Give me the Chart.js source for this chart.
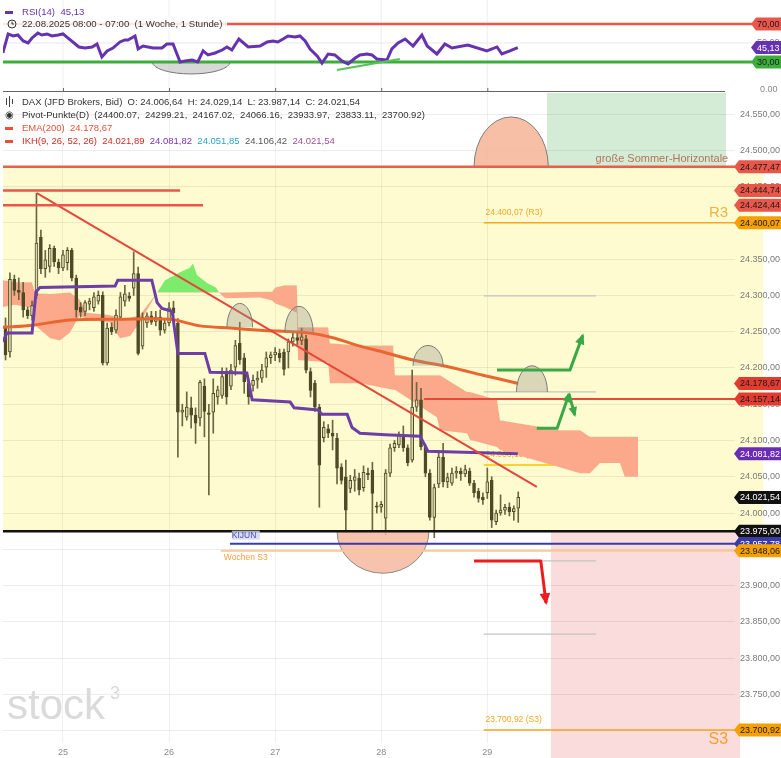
<!DOCTYPE html>
<html>
<head>
<meta charset="utf-8">
<script src="https://cdn.jsdelivr.net/npm/chart.js@4.4.1/dist/chart.umd.min.js"></script>
<style>
  html, body { margin: 0; padding: 0; background: #fff; }
  #wrap { position: relative; width: 781px; height: 758px; overflow: hidden; }
  #rsi { position: absolute; left: 0; top: 0; }
  #main { position: absolute; left: 0; top: 92px; }
</style>
</head>
<body>
<div id="wrap">
  <canvas id="rsi" width="781" height="92" style="width:781px;height:92px"></canvas>
  <canvas id="main" width="781" height="666" style="width:781px;height:666px"></canvas>
</div>
<script>
Chart.defaults.font.family = "'Liberation Sans', Arial, sans-serif";

// x axis: hours since 25.08. 00:00
const dayHours = [0, 24, 48, 72, 96];
const dayLabels = ['25', '26', '27', '28', '29'];
const priceTicks = [23700, 23750, 23800, 23850, 23900, 23950, 24000, 24050, 24100, 24150,
  24200, 24250, 24300, 24350, 24400, 24450, 24500, 24550];

// hourly candles, first one at hour -13
const firstHour = -13;
const opens = [24256, 24222, 24322, 24307, 24304, 24280, 24272, 24300, 24380, 24337, 24340, 24365, 24346,
  24338, 24345, 24362, 24324, 24284, 24278, 24288, 24283, 24292, 24300, 24207, 24256, 24252, 24270, 24292,
  24299, 24310, 24330, 24230, 24262, 24272, 24264, 24270, 24252, 24262, 24283, 24262, 24139, 24132, 24145,
  24135, 24131, 24175, 24138, 24139, 24160, 24162, 24195, 24175, 24201, 24234, 24214, 24179, 24176, 24183,
  24186, 24201, 24214, 24218, 24220, 24222, 24222, 24236, 24242, 24238, 24240, 24195, 24179, 24146, 24104,
  24116, 24110, 24103, 24063, 24050, 24034, 24045, 24048, 24035, 24055, 24059, 24010, 24008, 23993, 24055,
  24090, 24094, 24108, 24090, 24073, 24146, 24156, 24091, 24055, 23994, 24040, 24077, 24043, 24041, 24055,
  24058, 24054, 24058, 24041, 24030, 24022, 24028, 24045, 23988, 24000, 24004, 24008, 24002, 24006.64];
const highs = [24269, 24331, 24328, 24324, 24318, 24284, 24292, 24441, 24390, 24362, 24370, 24368, 24350,
  24362, 24366, 24365, 24328, 24290, 24293, 24296, 24304, 24306, 24305, 24262, 24262, 24280, 24304, 24314,
  24304, 24360, 24339, 24276, 24276, 24278, 24278, 24280, 24268, 24290, 24292, 24268, 24150, 24167, 24160,
  24145, 24183, 24185, 24150, 24185, 24175, 24200, 24200, 24205, 24238, 24263, 24220, 24185, 24190, 24195,
  24205, 24222, 24222, 24228, 24226, 24226, 24240, 24248, 24250, 24255, 24245, 24200, 24183, 24150, 24126,
  24122, 24128, 24110, 24068, 24073, 24052, 24060, 24055, 24065, 24062, 24070, 24015, 24016, 24060, 24095,
  24100, 24112, 24120, 24094, 24197, 24180, 24172, 24095, 24060, 24040, 24085, 24096, 24055, 24062, 24064,
  24062, 24066, 24062, 24045, 24034, 24028, 24062, 24050, 24004, 24025, 24012, 24014, 24010, 24029.14];
const lows = [24211, 24215, 24300, 24294, 24270, 24268, 24266, 24296, 24330, 24325, 24332, 24340, 24330,
  24334, 24335, 24320, 24270, 24270, 24272, 24280, 24278, 24288, 24204, 24204, 24246, 24248, 24266, 24285,
  24292, 24300, 24218, 24226, 24256, 24260, 24258, 24245, 24248, 24258, 24270, 24077, 24120, 24128, 24117,
  24096, 24120, 24105, 24025, 24110, 24150, 24158, 24150, 24170, 24190, 24205, 24165, 24150, 24168, 24172,
  24180, 24187, 24206, 24210, 24208, 24190, 24200, 24230, 24232, 24232, 24193, 24160, 24140, 24008, 24098,
  24104, 24087, 24040, 24040, 23974, 24028, 24030, 24025, 24030, 24046, 23977, 24000, 24001, 23970, 24050,
  24085, 24090, 24085, 24065, 24070, 24140, 24087, 24050, 23990, 23966, 24035, 24036, 24035, 24038, 24048,
  24045, 24050, 24038, 24022, 24015, 24012, 24020, 23980, 23984, 23997, 23998, 23996, 23990, 23987.14];
const closes = [24218, 24322, 24307, 24304, 24280, 24272, 24286, 24372, 24337, 24349, 24365, 24346, 24338,
  24356, 24362, 24324, 24280, 24277, 24290, 24292, 24298, 24300, 24207, 24255, 24250, 24273, 24298, 24302,
  24296, 24330, 24220, 24270, 24272, 24263, 24270, 24252, 24262, 24283, 24276, 24139, 24142, 24146, 24135,
  24124, 24180, 24140, 24136, 24165, 24170, 24188, 24160, 24197, 24231, 24211, 24181, 24160, 24183, 24186,
  24197, 24214, 24218, 24222, 24214, 24198, 24236, 24242, 24238, 24243, 24197, 24169, 24146, 24066, 24118,
  24110, 24106, 24062, 24045, 24004, 24045, 24050, 24032, 24056, 24053, 24027, 24008, 24012, 24055, 24090,
  24096, 24107, 24090, 24069, 24146, 24156, 24091, 24055, 23994, 24035, 24077, 24043, 24049, 24055, 24058,
  24054, 24060, 24041, 24028, 24020, 24018, 24043, 23990, 24000, 24004, 24008, 24002, 24006, 24021.54];

// EMA(200)
const emaHours = [-13.6, -6.8, 1.6, 12.9, 24.2, 31.0, 37.8, 44.6, 55.9, 61.5, 67.2, 72.4, 79.2, 87.6, 95.0, 103.0];
const emaValues = [24256, 24259, 24266, 24267, 24267, 24258, 24255, 24252, 24248, 24241, 24230, 24222,
  24211, 24201, 24190, 24178.67];

// Kijun-sen
const kijunHours = [-13.6, -12.7, -7.0, -6.1, -5.2, 11.8, 12.4, 20.1, 21.3, 22.4, 24.7, 26.0, 32.1, 33.3,
  41.6, 42.8, 51.4, 52.3, 57.7, 58.6, 64.3, 65.4, 67.2, 72.9, 80.8, 82.6, 102.9];
const kijunValues = [24236, 24248, 24248, 24305, 24311, 24313, 24321, 24321, 24290, 24282, 24278, 24220,
  24220, 24194, 24193, 24156, 24153, 24145, 24142, 24136, 24136, 24118, 24110, 24108, 24106, 24085, 24081.82];

// Ichimoku cloud (Senkou Span A / B)
const cloudHours = [-13.6, -10.9, -7.0, -6.3, -2.9, -0.7, 1.6, 3.8, 5.4, 10.6, 12.9, 15.2, 17.4, 21.3,
  23.1, 26.5, 28.7, 29.4, 30.3, 32.6, 34.6, 35.3, 36.7, 44.6, 47.3, 48.0, 50.2, 52.9, 53.2, 60.0, 60.4,
  67.2, 74.7, 75.1, 84.6, 85.3, 91.4, 92.1, 98.2, 98.9, 112.4, 117.0, 119.2, 121.5, 126.0, 127.1, 130.1];
const spanA = [24284, 24287, 24283, 24259, 24241, 24238, 24249, 24273, 24266, 24263, 24241, 24244, 24263,
  24304, 24321, 24332, 24338, 24344, 24328, 24317, 24311, 24304, 24296, 24297, 24293, 24289, 24284, 24276,
  24211, 24208, 24179, 24179, 24170, 24170, 24132, 24114, 24110, 24101, 24091, 24087, 24063, 24055, 24055,
  24069, 24069, 24050, 24050];
const spanB = [24321, 24318, 24318, 24303, 24302, 24303, 24304, 24294, 24276, 24273, 24269, 24269, 24273,
  24304, 24304, 24304, 24304, 24304, 24304, 24304, 24304, 24304, 24304, 24305, 24305, 24311, 24314, 24314,
  24256, 24256, 24234, 24231, 24231, 24190, 24190, 24190, 24167, 24167, 24156, 24128, 24114, 24114, 24105,
  24105, 24105, 24105, 24105];
const ikhLegend = [24021.89, 24081.82, 24051.85, 24106.42, 24021.54];

// RSI(14)
const rsiHours = [-13.6, -12.4, -11.3, -10.2, -9.0, -7.9, -7.0, -5.7, -4.8, -3.6, -2.5, -1.1, 0, 1.1, 3.6,
  5.0, 6.6, 7.7, 8.8, 10.0, 11.3, 12.9, 14.0, 14.7, 16.3, 17.0, 18.1, 20.4, 22.4, 23.5, 24.9, 26.5, 27.6,
  29.2, 30.5, 31.7, 32.8, 34.4, 36.0, 37.1, 38.2, 39.8, 41.9, 44.6, 46.2, 47.5, 48.6, 49.8, 50.9, 52.5,
  53.6, 54.8, 55.9, 57.5, 58.6, 60.0, 61.5, 63.1, 64.5, 66.1, 67.2, 68.8, 69.9, 71.0, 73.3, 74.4, 75.8,
  77.4, 79.2, 81.2, 82.4, 84.6, 86.4, 88.0, 91.6, 95.9, 98.2, 99.3, 101.1, 102.9];
const rsiValues = [39.5, 59.5, 57.4, 58.4, 52.1, 50.0, 55.3, 60.5, 58.4, 59.5, 57.4, 58.4, 59.5, 55.3, 45.8,
  44.7, 45.8, 48.9, 35.3, 41.6, 44.7, 51.1, 53.2, 53.2, 57.4, 43.7, 46.8, 44.7, 44.7, 48.9, 48.9, 30.0, 31.1,
  32.1, 30.0, 41.6, 37.4, 39.5, 42.6, 45.8, 42.6, 54.2, 45.8, 46.8, 51.1, 52.1, 51.1, 54.2, 57.4, 56.3,
  57.4, 52.1, 43.7, 36.3, 28.9, 38.4, 37.4, 31.1, 27.9, 34.2, 37.4, 38.4, 37.4, 33.2, 32.1, 43.7, 50.0,
  54.2, 46.8, 58.4, 46.8, 38.4, 48.9, 44.7, 47.9, 41.6, 45.8, 38.4, 41.6, 45.13];

// levels
const pivotNames = ['R3', 'R2', 'R1', 'PP', 'S1', 'S2', 'S3'];
const pivotValues = [24400.07, 24299.21, 24167.02, 24066.16, 23933.97, 23833.11, 23700.92];
const sommerHorizontale = 24477.47;
const resistanceLines = [24444.74, 24424.44];
const redLine = 24157.14;
const supportLine = 23975.00;
const weeklyKijun = 23957.78;
const weeklyS3 = 23948.06;

// view
const xMin = -13.57, xMax = 152.04;

const lastIdx = closes.length - 1;
const candleHours = opens.map((_, i) => firstHour + i);
const FONT = "'Liberation Sans', Arial";

function fmtDE(v) {
  const parts = Number(v).toFixed(2).split('.');
  return parts[0].replace(/\B(?=(\d{3})+(?!\d))/g, '.') + ',' + parts[1];
}

function poly(ctx, pts, color, width) {
  ctx.save();
  ctx.strokeStyle = color;
  ctx.lineWidth = width;
  ctx.lineJoin = 'round';
  ctx.beginPath();
  pts.forEach((p, i) => i ? ctx.lineTo(p[0], p[1]) : ctx.moveTo(p[0], p[1]));
  ctx.stroke();
  ctx.restore();
}

function arrowHead(ctx, from, to, color, size) {
  const a = Math.atan2(to[1] - from[1], to[0] - from[0]);
  ctx.save();
  ctx.fillStyle = color;
  ctx.beginPath();
  ctx.moveTo(to[0] + Math.cos(a) * 2, to[1] + Math.sin(a) * 2);
  ctx.lineTo(to[0] - size * Math.cos(a - 0.5), to[1] - size * Math.sin(a - 0.5));
  ctx.lineTo(to[0] - size * Math.cos(a + 0.5), to[1] - size * Math.sin(a + 0.5));
  ctx.closePath();
  ctx.fill();
  ctx.restore();
}

function tag(ctx, tipX, y, str, bg, fg) {
  const h = 13, bx = tipX + 5;
  ctx.save();
  ctx.beginPath();
  ctx.moveTo(tipX, y);
  ctx.lineTo(bx, y - h / 2);
  ctx.lineTo(781, y - h / 2);
  ctx.lineTo(781, y + h / 2);
  ctx.lineTo(bx, y + h / 2);
  ctx.closePath();
  ctx.fillStyle = bg;
  ctx.fill();
  ctx.fillStyle = fg;
  ctx.font = '9px ' + FONT;
  ctx.textAlign = 'left';
  ctx.textBaseline = 'middle';
  ctx.fillText(str, bx + 1, y + 0.5);
  ctx.restore();
}

function halfEllipse(ctx, cx, by, rx, ry, up, fill, stroke) {
  ctx.save();
  ctx.beginPath();
  if (up) ctx.ellipse(cx, by, rx, ry, 0, Math.PI, 2 * Math.PI);
  else ctx.ellipse(cx, by, rx, ry, 0, 0, Math.PI);
  ctx.fillStyle = fill;
  ctx.fill();
  ctx.strokeStyle = stroke;
  ctx.lineWidth = 1;
  ctx.stroke();
  ctx.restore();
}

function text(ctx, str, x, y, color, font, align) {
  ctx.save();
  ctx.fillStyle = color;
  ctx.font = font;
  ctx.textAlign = align || 'left';
  ctx.textBaseline = 'middle';
  ctx.fillText(str, x, y);
  ctx.restore();
}

// drawings in data coordinates (hours, price)
const domes = [
  { h: 40.0, hw: 2.9, base: 24256, top: 24289, fill: 'rgba(150,150,140,0.35)' },
  { h: 53.4, hw: 3.2, base: 24249, top: 24285, fill: 'rgba(150,150,140,0.35)' },
  { h: 82.6, hw: 3.4, base: 24203, top: 24231, fill: 'rgba(150,150,140,0.35)' },
  { h: 106.1, hw: 3.5, base: 24167, top: 24203, fill: 'rgba(150,150,140,0.35)' },
  { h: 101.4, hw: 8.4, base: 24477.47, top: 24546, fill: 'rgba(246,180,150,0.85)' }
];
const bowl = { h: 72.4, hw: 10.4, base: 23975, bottom: 23917 };
const trendLine = [[-5.9, 24441], [107.2, 24036]];
const greenArrow1 = [[98.2, 24197], [114.7, 24197], [117.6, 24245]];
const greenArrow2 = [[107.2, 24117], [111.8, 24117], [114.5, 24164]];
const greenArrow2b = [[114.5, 24164], [115.8, 24135]];
const redArrow = [[93.0, 23934], [108.1, 23934], [109.3, 23876]];

const mainDecor = {
  id: 'mainDecor',
  beforeDraw(chart) {
    const { ctx, chartArea: a, scales: { x, y } } = chart;
    const X = h => x.getPixelForValue(h), Y = v => y.getPixelForValue(v);
    ctx.save();
    ctx.fillStyle = '#fefbd0';
    ctx.fillRect(a.left, Y(sommerHorizontale), X(158.4) - a.left, Y(supportLine) - Y(sommerHorizontale));
    ctx.fillStyle = '#d4ecd5';
    ctx.fillRect(X(109.5), 1, X(150) - X(109.5), Y(sommerHorizontale) - 1);
    ctx.fillStyle = '#f9dcdb';
    ctx.fillRect(X(110.4), Y(supportLine), X(153.2) - X(110.4), chart.height - Y(supportLine));
    ctx.restore();
  },
  beforeDatasetsDraw(chart) {
    const { ctx, chartArea: a, scales: { x, y } } = chart;
    const X = h => x.getPixelForValue(h), Y = v => y.getPixelForValue(v);
    // watermark
    text(ctx, 'stock', 7, 615, '#dadada', '42px ' + FONT);
    text(ctx, '3', 110, 602, '#dadada', '18px ' + FONT);
    // daily pivots
    pivotValues.forEach((v, i) => {
      const name = pivotNames[i];
      let color = '#c4c4c4', w = 1.2, x2 = X(120.6);
      if (name === 'R3' || name === 'S3') { color = '#f5a623'; w = 1.5; x2 = a.right; }
      if (name === 'PP') { color = '#f7c400'; w = 1.5; }
      poly(ctx, [[X(95.2), Y(v)], [x2, Y(v)]], color, w);
      if (name === 'R3' || name === 'S3' || name === 'PP') {
        text(ctx, fmtDE(v) + ' (' + name + ')', X(95.6), Y(v) - 10, '#f5a623', '8.5px ' + FONT);
      }
    });
    text(ctx, 'R3', X(150.5), Y(pivotValues[0]) - 10, '#f5b040', '15px ' + FONT, 'right');
    text(ctx, 'S3', X(150.5), Y(pivotValues[6]) + 10, '#f5a030', '16px ' + FONT, 'right');
  },
  afterDatasetsDraw(chart) {
    const { ctx, chartArea: a, scales: { x, y } } = chart;
    const X = h => x.getPixelForValue(h), Y = v => y.getPixelForValue(v);
    const P = pts => pts.map(p => [X(p[0]), Y(p[1])]);
    poly(ctx, P(trendLine), '#e5473b', 2);
    domes.forEach(d => {
      halfEllipse(ctx, X(d.h), Y(d.base), X(d.h + d.hw) - X(d.h), Y(d.base) - Y(d.top), true, d.fill, '#7d7d75');
    });
    halfEllipse(ctx, X(bowl.h), Y(bowl.base), X(bowl.h + bowl.hw) - X(bowl.h), Y(bowl.bottom) - Y(bowl.base),
      false, 'rgba(246,185,160,0.85)', '#8a8a80');
    poly(ctx, [[a.left, Y(resistanceLines[0])], [X(26.5), Y(resistanceLines[0])]], '#e8574a', 2.5);
    poly(ctx, [[a.left, Y(resistanceLines[1])], [X(31.7), Y(resistanceLines[1])]], '#e8574a', 2.5);
    poly(ctx, [[a.left, Y(sommerHorizontale)], [a.right, Y(sommerHorizontale)]], '#e8604c', 2.5);
    poly(ctx, [[X(81.7), Y(redLine)], [a.right, Y(redLine)]], '#e34a3c', 2);
    poly(ctx, [[X(35.7), Y(weeklyS3)], [a.right, Y(weeklyS3)]], '#f8c896', 2);
    poly(ctx, [[X(37.8), Y(weeklyKijun)], [a.right, Y(weeklyKijun)]], '#3b3ba3', 2);
    poly(ctx, [[a.left, Y(supportLine)], [a.right, Y(supportLine)]], '#111111', 2.5);
    text(ctx, 'große Sommer-Horizontale', X(150.5), Y(sommerHorizontale) - 8, '#b3735c', '11px ' + FONT, 'right');
    ctx.save();
    ctx.fillStyle = 'rgba(205,212,240,0.8)';
    ctx.fillRect(X(38.2), Y(weeklyKijun) - 13, 28, 9);
    ctx.restore();
    text(ctx, 'KIJUN', X(38.2), Y(weeklyKijun) - 8, '#4d4db0', '8.5px ' + FONT);
    text(ctx, 'Wochen S3', X(36.4), Y(weeklyS3) + 7, '#f0a040', '8.5px ' + FONT);
    const g1 = P(greenArrow1), g2 = P(greenArrow2), g2b = P(greenArrow2b), r = P(redArrow);
    poly(ctx, g1, '#3aa845', 3);
    arrowHead(ctx, g1[1], g1[2], '#3aa845', 10);
    poly(ctx, g2, '#3aa845', 3);
    arrowHead(ctx, g2[1], g2[2], '#3aa845', 9);
    poly(ctx, g2b, '#3aa845', 3);
    arrowHead(ctx, g2b[0], g2b[1], '#3aa845', 9);
    poly(ctx, r, '#ee1c1c', 3);
    arrowHead(ctx, r[1], r[2], '#ee1c1c', 11);
  },
  afterDraw(chart) {
    const { ctx, scales: { y } } = chart;
    const Y = v => y.getPixelForValue(v);
    // price labels
    priceTicks.forEach(v => text(ctx, fmtDE(v), 740, Y(v), '#7a7a7a', '9px ' + FONT));
    const tags = [
      [sommerHorizontale, '#e8574a', '#1a1a1a'],
      [resistanceLines[0], '#e8574a', '#1a1a1a'],
      [resistanceLines[1], '#e8574a', '#1a1a1a'],
      [pivotValues[0], '#f5a000', '#1a1a1a'],
      [emaValues[emaValues.length - 1], '#e23b2f', '#1a1a1a'],
      [redLine, '#e23b2f', '#1a1a1a'],
      [kijunValues[kijunValues.length - 1], '#6a2bb5', '#ffffff'],
      [closes[lastIdx], '#111111', '#ffffff'],
      [supportLine, '#111111', '#ffffff'],
      [weeklyKijun, '#3a3aa8', '#ffffff'],
      [weeklyS3, '#f5a000', '#1a1a1a'],
      [pivotValues[6], '#f5a000', '#1a1a1a']
    ];
    tags.forEach(t => tag(ctx, 734, Y(t[0]), fmtDE(t[0]), t[1], t[2]));

    // legend
    const f = '9.5px ' + FONT;
    ctx.save();
    ctx.strokeStyle = '#444';
    ctx.lineWidth = 1;
    [[6, 6, 13], [9, 4, 15], [12, 7, 12]].forEach(c => {
      ctx.beginPath(); ctx.moveTo(c[0] + 0.5, c[1]); ctx.lineTo(c[0] + 0.5, c[2]); ctx.stroke();
    });
    ctx.restore();
    text(ctx, 'DAX (JFD Brokers, Bid)  O: ' + fmtDE(opens[lastIdx]) + '  H: ' + fmtDE(highs[lastIdx]) +
      '  L: ' + fmtDE(lows[lastIdx]) + '  C: ' + fmtDE(closes[lastIdx]), 22, 10, '#333', f);
    text(ctx, '◉', 5, 23, '#333', f);
    text(ctx, 'Pivot-Punkte(D)  (' + pivotValues.map(v => v.toFixed(2)).join(',  ') + ')', 22, 23, '#333', f);
    ctx.save();
    ctx.fillStyle = '#e8503a';
    ctx.fillRect(5, 35, 8, 3);
    ctx.fillRect(5, 48, 8, 3);
    ctx.restore();
    text(ctx, 'EMA(200)  ' + fmtDE(emaValues[emaValues.length - 1]), 22, 36, '#e8503a', f);
    ctx.save();
    ctx.font = f;
    let tx = 22;
    const parts = [['IKH(9, 26, 52, 26)  ' + fmtDE(ikhLegend[0]) + '  ', '#cc2e22'],
      [fmtDE(ikhLegend[1]) + '  ', '#7a2fb5'], [fmtDE(ikhLegend[2]) + '  ', '#2aa3c8'],
      [fmtDE(ikhLegend[3]) + '  ', '#555555'], [fmtDE(ikhLegend[4]), '#a0508e']];
    parts.forEach(p => {
      text(ctx, p[0], tx, 49, p[1], f);
      tx += ctx.measureText(p[0]).width;
    });
    ctx.restore();
  }
};

const bodyColors = opens.map((o, i) => closes[i] >= o ? '#dcd7a8' : '#4f4a26');

new Chart(document.getElementById('main'), {
  type: 'bar',
  data: {
    datasets: [
      {
        type: 'line', label: 'Kijun',
        data: kijunHours.map((h, i) => ({ x: h, y: kijunValues[i] })),
        borderColor: '#6d3ea6', borderWidth: 3, pointRadius: 0, tension: 0, fill: false
      },
      {
        type: 'line', label: 'EMA(200)',
        data: emaHours.map((h, i) => ({ x: h, y: emaValues[i] })),
        borderColor: '#ea6630', borderWidth: 3, pointRadius: 0, tension: 0.3, fill: false
      },
      {
        type: 'bar', label: 'Kerzen',
        data: candleHours.map((h, i) => ({ x: h, y: [opens[i], closes[i]] })),
        backgroundColor: bodyColors, borderColor: '#4f4a26', borderWidth: 1, borderSkipped: false,
        barThickness: 3, grouped: false, minBarLength: 1
      },
      {
        type: 'bar', label: 'Dochte',
        data: candleHours.map((h, i) => ({ x: h, y: [lows[i], highs[i]] })),
        backgroundColor: '#6b6540', barThickness: 1, grouped: false
      },
      {
        type: 'line', label: 'Span A',
        data: cloudHours.map((h, i) => ({ x: h, y: spanA[i] })),
        borderColor: 'rgba(0,0,0,0)', borderWidth: 0, pointRadius: 0, tension: 0,
        fill: { target: '+1', above: '#7dec6c', below: '#fba98a' }
      },
      {
        type: 'line', label: 'Span B',
        data: cloudHours.map((h, i) => ({ x: h, y: spanB[i] })),
        borderColor: 'rgba(0,0,0,0)', borderWidth: 0, pointRadius: 0, tension: 0, fill: false
      }
    ]
  },
  options: {
    responsive: false,
    animation: false,
    events: [],
    layout: { padding: { left: 3, top: 1, right: 0, bottom: 0 } },
    plugins: { legend: { display: false }, tooltip: { enabled: false } },
    scales: {
      x: {
        type: 'linear', min: xMin, max: xMax, offset: false,
        grid: { color: 'rgba(0,0,0,0.06)', drawTicks: false, offset: false },
        border: { display: false },
        ticks: {
          color: '#8a8a8a', font: { size: 9 }, padding: 4, maxRotation: 0, autoSkip: false,
          callback: v => { const i = dayHours.indexOf(v); return i >= 0 ? dayLabels[i] : ''; }
        },
        afterBuildTicks: axis => { axis.ticks = dayHours.map(v => ({ value: v })); },
        afterFit: axis => { axis.height = 15; }
      },
      y: {
        type: 'linear', position: 'right', min: 23683, max: 24579,
        grid: { color: 'rgba(0,0,0,0.07)', drawTicks: false },
        border: { display: false },
        ticks: { display: false },
        afterBuildTicks: axis => { axis.ticks = priceTicks.map(v => ({ value: v })); },
        afterFit: axis => { axis.width = 46; }
      }
    }
  },
  plugins: [mainDecor]
});

// RSI panel
const rsiBowl = { h: 29, hw: 8.8, base: 30, bottom: 17.4 };
const rsiTrend = [[62.0, 21.6], [76.2, 33.2]];

const rsiDecor = {
  id: 'rsiDecor',
  beforeDatasetsDraw(chart) {
    const { ctx, chartArea: a, scales: { x, y } } = chart;
    const X = h => x.getPixelForValue(h), Y = v => y.getPixelForValue(v);
    dayHours.forEach(h => poly(ctx, [[X(h), 0], [X(h), a.bottom]], 'rgba(0,0,0,0.07)', 1));
    poly(ctx, [[a.left, Y(50)], [752, Y(50)]], '#e8e8e8', 1);
    halfEllipse(ctx, X(rsiBowl.h), Y(rsiBowl.base), X(rsiBowl.h + rsiBowl.hw) - X(rsiBowl.h),
      Y(rsiBowl.bottom) - Y(rsiBowl.base), false, 'rgba(190,190,190,0.6)', '#777');
    poly(ctx, [[a.left, Y(70)], [752, Y(70)]], '#e8574a', 2.5);
    poly(ctx, [[a.left, Y(30)], [752, Y(30)]], '#3cae3c', 3);
  },
  afterDatasetsDraw(chart) {
    const { ctx, scales: { x, y } } = chart;
    poly(ctx, rsiTrend.map(p => [x.getPixelForValue(p[0]), y.getPixelForValue(p[1])]), '#55c255', 2);
  },
  afterDraw(chart) {
    const { ctx, scales: { x, y } } = chart;
    const X = h => x.getPixelForValue(h), Y = v => y.getPixelForValue(v);
    poly(ctx, [[3, 91.5], [725, 91.5]], '#666', 1.2);
    dayHours.forEach(h => poly(ctx, [[X(h) + 0.5, 88], [X(h) + 0.5, 92]], '#666', 1));
    text(ctx, '50,00', 757, Y(50), '#888', '9px ' + FONT);
    text(ctx, '0,00', 760, Y(0) - 1, '#888', '9px ' + FONT);
    tag(ctx, 751, Y(70), '70,00', '#e8574a', '#1a1a1a');
    tag(ctx, 751, Y(30), '30,00', '#3cae3c', '#1a1a1a');
    tag(ctx, 751, Y(rsiValues[rsiValues.length - 1]), fmtDE(rsiValues[rsiValues.length - 1]), '#6633b0', '#ffffff');
    const f = '9.6px ' + FONT;
    ctx.save();
    ctx.fillStyle = '#6633b0';
    ctx.fillRect(5, 11, 8, 3);
    ctx.fillStyle = 'rgba(255,255,255,0.85)';
    ctx.fillRect(3, 18, 224, 12);
    ctx.strokeStyle = '#333';
    ctx.lineWidth = 1;
    ctx.beginPath(); ctx.arc(12, 24, 4, 0, 2 * Math.PI); ctx.stroke();
    ctx.beginPath(); ctx.moveTo(12, 24); ctx.lineTo(12, 21.5); ctx.moveTo(12, 24); ctx.lineTo(14, 24); ctx.stroke();
    ctx.restore();
    text(ctx, 'RSI(14)  ' + fmtDE(rsiValues[rsiValues.length - 1]), 22, 12, '#6633b0', f);
    text(ctx, '22.08.2025 08:00 - 07:00  (1 Woche, 1 Stunde)', 22, 24, '#333', f);
  }
};

new Chart(document.getElementById('rsi'), {
  type: 'line',
  data: {
    datasets: [{
      label: 'RSI(14)',
      data: rsiHours.map((h, i) => ({ x: h, y: rsiValues[i] })),
      borderColor: '#6633b0', borderWidth: 3, pointRadius: 0, tension: 0, fill: false
    }]
  },
  options: {
    responsive: false,
    animation: false,
    events: [],
    layout: { padding: { left: 3, right: 46, top: 0, bottom: 1 } },
    plugins: { legend: { display: false }, tooltip: { enabled: false } },
    scales: {
      x: { type: 'linear', min: xMin, max: xMax, display: false },
      y: { type: 'linear', min: -0.55, max: 95.25, display: false }
    }
  },
  plugins: [rsiDecor]
});
</script>
</body>
</html>
